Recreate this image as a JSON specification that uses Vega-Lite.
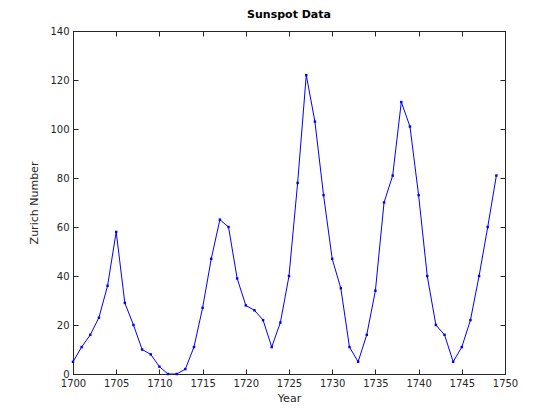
{
  "$schema": "https://vega.github.io/schema/vega-lite/v6.json",
  "autosize": "none",
  "width": 432,
  "height": 343,
  "padding": {"left": 73, "top": 31, "right": 55, "bottom": 46},
  "background": "white",
  "title": {
    "text": "Sunspot Data",
    "fontSize": 11,
    "fontWeight": "bold",
    "font": "DejaVu Sans",
    "color": "black",
    "offset": 6,
    "anchor": "middle"
  },
  "data": {
    "values": [
      {"year": 1700, "n": 5}, {"year": 1701, "n": 11}, {"year": 1702, "n": 16},
      {"year": 1703, "n": 23}, {"year": 1704, "n": 36}, {"year": 1705, "n": 58},
      {"year": 1706, "n": 29}, {"year": 1707, "n": 20}, {"year": 1708, "n": 10},
      {"year": 1709, "n": 8}, {"year": 1710, "n": 3}, {"year": 1711, "n": 0},
      {"year": 1712, "n": 0}, {"year": 1713, "n": 2}, {"year": 1714, "n": 11},
      {"year": 1715, "n": 27}, {"year": 1716, "n": 47}, {"year": 1717, "n": 63},
      {"year": 1718, "n": 60}, {"year": 1719, "n": 39}, {"year": 1720, "n": 28},
      {"year": 1721, "n": 26}, {"year": 1722, "n": 22}, {"year": 1723, "n": 11},
      {"year": 1724, "n": 21}, {"year": 1725, "n": 40}, {"year": 1726, "n": 78},
      {"year": 1727, "n": 122}, {"year": 1728, "n": 103}, {"year": 1729, "n": 73},
      {"year": 1730, "n": 47}, {"year": 1731, "n": 35}, {"year": 1732, "n": 11},
      {"year": 1733, "n": 5}, {"year": 1734, "n": 16}, {"year": 1735, "n": 34},
      {"year": 1736, "n": 70}, {"year": 1737, "n": 81}, {"year": 1738, "n": 111},
      {"year": 1739, "n": 101}, {"year": 1740, "n": 73}, {"year": 1741, "n": 40},
      {"year": 1742, "n": 20}, {"year": 1743, "n": 16}, {"year": 1744, "n": 5},
      {"year": 1745, "n": 11}, {"year": 1746, "n": 22}, {"year": 1747, "n": 40},
      {"year": 1748, "n": 60}, {"year": 1749, "n": 81}
    ]
  },
  "layer": [
    {
      "mark": {"type": "line", "color": "#0000ff", "strokeWidth": 1, "clip": true},
      "encoding": {
        "x": {
          "field": "year", "type": "quantitative",
          "scale": {"domain": [1700, 1750], "nice": false, "zero": false},
          "axis": {"title": "Year", "values": [1700, 1705, 1710, 1715, 1720, 1725, 1730, 1735, 1740, 1745, 1750], "format": "d"}
        },
        "y": {
          "field": "n", "type": "quantitative",
          "scale": {"domain": [0, 140], "nice": false},
          "axis": {"title": "Zurich Number", "values": [0, 20, 40, 60, 80, 100, 120, 140]}
        }
      }
    },
    {
      "mark": {"type": "square", "color": "#0000ff", "size": 6, "opacity": 1, "filled": true},
      "encoding": {
        "x": {
          "field": "year", "type": "quantitative",
          "axis": {"orient": "top", "labels": false, "title": null, "values": [1700, 1705, 1710, 1715, 1720, 1725, 1730, 1735, 1740, 1745, 1750]}
        },
        "y": {
          "field": "n", "type": "quantitative",
          "axis": {"orient": "right", "labels": false, "title": null, "values": [0, 20, 40, 60, 80, 100, 120, 140]}
        }
      }
    }
  ],
  "resolve": {"axis": {"x": "independent", "y": "independent"}},
  "config": {
    "view": {"stroke": "#262626", "strokeWidth": 1},
    "axis": {
      "grid": false,
      "domainColor": "#262626",
      "tickColor": "#262626",
      "tickSize": -5,
      "labelFlush": false,
      "labelOverlap": false,
      "labelFont": "DejaVu Sans",
      "labelFontSize": 10,
      "labelColor": "#262626",
      "labelPadding": 9,
      "titleFont": "DejaVu Sans",
      "titleFontSize": 11,
      "titleFontWeight": "normal",
      "titleColor": "#262626"
    },
    "axisX": {"titlePadding": 4},
    "axisY": {"titlePadding": 10}
  }
}
